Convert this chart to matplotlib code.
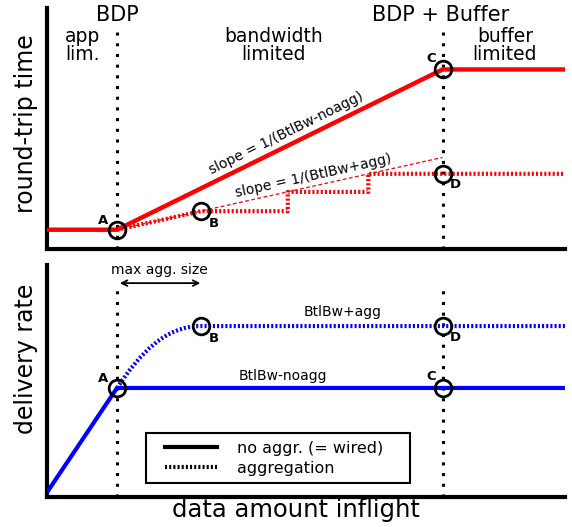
import math
import matplotlib
matplotlib.use('Agg')
import matplotlib.pyplot as plt
from matplotlib.lines import Line2D
from matplotlib.path import Path
from matplotlib.patches import PathPatch
from matplotlib.legend_handler import HandlerLine2D

# x positions (data amount inflight, arbitrary units)
X_MAX = 7.4
BDP = 1.0
BDP_BUF = 5.65
AGG_X = 2.2

# round-trip time (top panel)
rtt_x = [0, BDP, BDP_BUF, X_MAX]
rtt_y = [0.8, 0.8, 7.45, 7.45]
rtt_slope_x = [BDP, BDP_BUF]
rtt_slope_y = [0.8, 3.8]
rtt_agg_x = [BDP, AGG_X, 3.44, 3.44, 4.59, 4.59, X_MAX]
rtt_agg_y = [0.8, 1.57, 1.57, 2.37, 2.37, 3.12, 3.12]
rtt_points = {'A': (BDP, 0.8), 'B': (AGG_X, 1.57), 'C': (BDP_BUF, 7.45), 'D': (BDP_BUF, 3.12)}

# delivery rate (bottom panel)
rate_x = [0, BDP, X_MAX]
rate_y = [0.2, 4.7, 4.7]
rate_agg_ctrl = [(BDP, 4.7), (1.33, 6.2), (1.69, 7.37), (AGG_X, 7.37), (X_MAX, 7.37)]
rate_points = {'A': (BDP, 4.7), 'B': (AGG_X, 7.37), 'C': (BDP_BUF, 4.7), 'D': (BDP_BUF, 7.37)}

label_offsets = {'A': (-10, 7), 'B': (9, -9), 'C': (-8, 8), 'D': (9, -8)}

DOTTED = (0, (0.5, 0.5))
VDOT = (0, (1, 2.5))

fig = plt.figure(figsize=(5.72, 5.27), dpi=100)
ax1 = fig.add_axes([0.0822, 0.5275, 0.9056, 0.4573])
ax2 = fig.add_axes([0.0822, 0.0569, 0.9056, 0.4402])

for ax in (ax1, ax2):
    ax.set_xlim(0, X_MAX)
    ax.set_ylim(0, 10)
    ax.set_xticks([])
    ax.set_yticks([])
    for side in ('top', 'right'):
        ax.spines[side].set_visible(False)
    for side in ('left', 'bottom'):
        ax.spines[side].set_linewidth(3)
        ax.spines[side].set_color('black')


def mark(ax, points):
    for name, (x, y) in points.items():
        ax.plot(x, y, 'o', ms=12, mfc='none', mec='black', mew=2, zorder=5, clip_on=False)
        ax.annotate(name, (x, y), textcoords='offset points', xytext=label_offsets[name],
                    ha='center', va='center', fontsize=9.5, fontweight='bold', zorder=6)


def angle_of(ax, x0, y0, x1, y1):
    p0 = ax.transData.transform((x0, y0))
    p1 = ax.transData.transform((x1, y1))
    return math.degrees(math.atan2(p1[1] - p0[1], p1[0] - p0[0]))


class PaddedLine(HandlerLine2D):
    # leave some blank room on the left of the legend line
    def get_xdata(self, legend, xdescent, ydescent, width, height, fontsize):
        pad = 8.5
        xs = [-xdescent + pad, -xdescent + width]
        return xs, xs


# top panel: round-trip time
ax1.vlines([BDP, BDP_BUF], 0, 9.0, colors='black', lw=2.2, linestyles=[VDOT], zorder=1)
ax1.plot(rtt_x, rtt_y, color='red', lw=3.2, solid_capstyle='butt', zorder=3)
ax1.plot(rtt_slope_x, rtt_slope_y, color='red', lw=0.9, linestyle=(0, (3, 2)), zorder=2)
ax1.plot(rtt_agg_x, rtt_agg_y, color='red', lw=3, linestyle=DOTTED, zorder=3)
mark(ax1, rtt_points)

a1 = angle_of(ax1, rtt_x[1], rtt_y[1], rtt_x[2], rtt_y[2])
tx = 3.5
ty = rtt_y[1] + (tx - BDP) * (rtt_y[2] - rtt_y[1]) / (BDP_BUF - BDP)
ax1.annotate('slope = 1/(BtlBw-noagg)', (tx, ty), textcoords='offset points', xytext=(-2, 3),
             rotation=a1, rotation_mode='anchor', ha='center', va='bottom', fontsize=10)
a2 = angle_of(ax1, rtt_slope_x[0], rtt_slope_y[0], rtt_slope_x[1], rtt_slope_y[1])
tx = 3.82
ty = rtt_slope_y[0] + (tx - BDP) * (rtt_slope_y[1] - rtt_slope_y[0]) / (BDP_BUF - BDP)
ax1.annotate('slope = 1/(BtlBw+agg)', (tx, ty), textcoords='offset points', xytext=(0, 2),
             rotation=a2, rotation_mode='anchor', ha='center', va='bottom', fontsize=10)

ax1.text(BDP, 9.71, 'BDP', ha='center', va='center', fontsize=15)
ax1.text(BDP_BUF - 0.02, 9.71, 'BDP + Buffer', ha='center', va='center', fontsize=15)
ax1.text(0.51, 8.45, 'app\nlim.', ha='center', va='center', fontsize=13.5, linespacing=0.9)
ax1.text(3.24, 8.45, 'bandwidth\nlimited', ha='center', va='center', fontsize=13.5, linespacing=0.9)
ax1.text(6.54, 8.45, 'buffer\nlimited', ha='center', va='center', fontsize=13.5, linespacing=0.9)

# bottom panel: delivery rate
ax2.vlines([BDP, BDP_BUF], 0, 9.14, colors='black', lw=2.2, linestyles=[VDOT], zorder=1)
ax2.plot(rate_x, rate_y, color='blue', lw=3, solid_capstyle='butt', zorder=3)
codes = [Path.MOVETO, Path.CURVE4, Path.CURVE4, Path.CURVE4, Path.LINETO]
agg_path = Path(rate_agg_ctrl, codes)
ax2.add_patch(PathPatch(agg_path, fill=False, edgecolor='blue', lw=3, linestyle=DOTTED, zorder=3))
mark(ax2, rate_points)

ax2.annotate('', xy=(BDP, 9.22), xytext=(AGG_X + 0.03, 9.22),
             arrowprops=dict(arrowstyle='<->', color='black', lw=1.3))
ax2.text((BDP + AGG_X) / 2, 9.78, 'max agg. size', ha='center', va='center', fontsize=10)
ax2.text(4.23, 7.97, 'BtlBw+agg', ha='center', va='center', fontsize=10)
ax2.text(3.37, 5.2, 'BtlBw-noagg', ha='center', va='center', fontsize=10)

handles = [Line2D([], [], color='black', lw=3),
           Line2D([], [], color='black', lw=3, linestyle=DOTTED)]
leg = ax2.legend(handles, ['no aggr. (= wired)', 'aggregation'], loc='lower left',
                 bbox_to_anchor=(0.191, 0.06, 0.51, 0.2), mode='expand', borderaxespad=0,
                 fancybox=False, edgecolor='black', framealpha=1, fontsize=11.5,
                 handlelength=4.0, handletextpad=1.2, labelspacing=0.3, borderpad=0.47,
                 handler_map={Line2D: PaddedLine()})
leg.get_frame().set_linewidth(1.5)

fig.text(26 / 572, 1 - 124 / 527, 'round-trip time', rotation=90, ha='center', va='center', fontsize=17)
fig.text(26 / 572, 1 - 359 / 527, 'delivery rate', rotation=90, ha='center', va='center', fontsize=17)
fig.text(296 / 572, 1 - 510 / 527, 'data amount inflight', ha='center', va='center', fontsize=17.5)

plt.savefig('out.png', dpi=100)
